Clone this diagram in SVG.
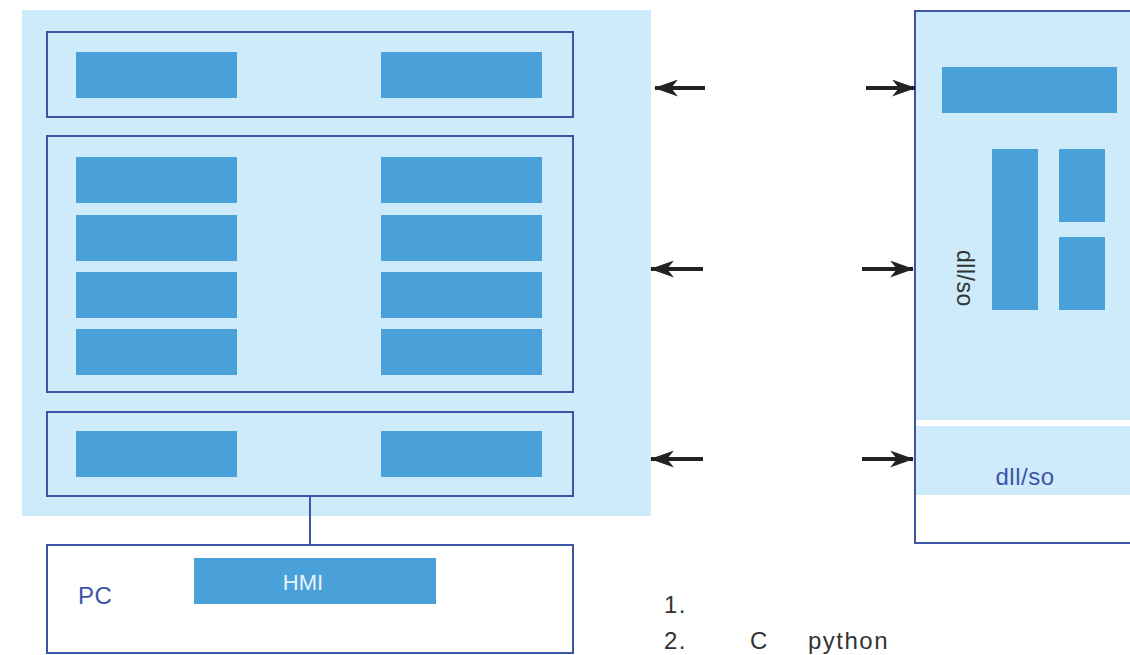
<svg xmlns="http://www.w3.org/2000/svg" width="1130" height="655" viewBox="0 0 1130 655">
<defs>
<style>
.bg{fill:#cdebfb}
.frame{fill:none;stroke:#3d55a6;stroke-width:2}
.blk{fill:#4aa0d9}
.arr{stroke:#222;stroke-width:4;fill:none}
.lbl{font-family:"Liberation Sans",sans-serif;font-size:24px;fill:#3d55a6;letter-spacing:0.5px}
.note{font-family:"Liberation Sans",sans-serif;font-size:24px;fill:#333;letter-spacing:1.5px}
</style>
<marker id="ah" viewBox="0 0 24 17" refX="23" refY="8.5" markerWidth="24" markerHeight="17" orient="auto" markerUnits="userSpaceOnUse">
<path d="M0,0 L24,8.5 L0,17 L7,8.5 Z" fill="#222"/>
</marker>
</defs>
<rect class="bg" x="22" y="10" width="629" height="506"/>
<g id="box1">
<rect class="frame" x="47" y="32" width="526" height="85"/>
<rect class="blk" x="76" y="52" width="161" height="46"/>
<rect class="blk" x="381" y="52" width="161" height="46"/>
</g>
<g id="box2">
<rect class="frame" x="47" y="136" width="526" height="256"/>
<rect class="blk" x="76" y="157" width="161" height="46"/>
<rect class="blk" x="381" y="157" width="161" height="46"/>
<rect class="blk" x="76" y="215" width="161" height="46"/>
<rect class="blk" x="381" y="215" width="161" height="46"/>
<rect class="blk" x="76" y="272" width="161" height="46"/>
<rect class="blk" x="381" y="272" width="161" height="46"/>
<rect class="blk" x="76" y="329" width="161" height="46"/>
<rect class="blk" x="381" y="329" width="161" height="46"/>
</g>
<g id="box3">
<rect class="frame" x="47" y="412" width="526" height="84"/>
<rect class="blk" x="76" y="431" width="161" height="46"/>
<rect class="blk" x="381" y="431" width="161" height="46"/>
</g>
<g id="pc">
<rect class="frame" x="47" y="545" width="526" height="108" fill="#fff"/>
<rect class="blk" x="194" y="558" width="242" height="46"/>
<text x="303" y="590" text-anchor="middle" font-family="Liberation Sans, sans-serif" font-size="22" fill="#e8f4fc">HMI</text>
<text class="lbl" x="78" y="604">PC</text>
</g>
<g id="right">
<rect class="bg" x="915" y="11" width="215" height="409"/>
<rect class="bg" x="915" y="426" width="215" height="69"/>
<path class="frame" d="M1131,11 H915 V543 H1131"/>
<rect class="blk" x="942" y="67" width="175" height="46"/>
<rect class="blk" x="992" y="149" width="46" height="161"/>
<rect class="blk" x="1059" y="149" width="46" height="73"/>
<rect class="blk" x="1059" y="237" width="46" height="73"/>
<text x="957" y="250" transform="rotate(90 957 250)" font-family="Liberation Sans, sans-serif" font-size="23" fill="#333" letter-spacing="0.5">dll/so</text>
<text class="lbl" x="1025" y="485" text-anchor="middle">dll/so</text>
</g>
<g id="connectors">
<line x1="310" y1="496" x2="310" y2="545" stroke="#3d55a6" stroke-width="2"/>
<line class="arr" x1="705" y1="88" x2="655" y2="88" marker-end="url(#ah)"/>
<line class="arr" x1="703" y1="269" x2="651" y2="269" marker-end="url(#ah)"/>
<line class="arr" x1="703" y1="459" x2="651" y2="459" marker-end="url(#ah)"/>
<line class="arr" x1="866" y1="88" x2="915" y2="88" marker-end="url(#ah)"/>
<line class="arr" x1="862" y1="269" x2="913" y2="269" marker-end="url(#ah)"/>
<line class="arr" x1="862" y1="459" x2="913" y2="459" marker-end="url(#ah)"/>
</g>
<g id="notes">
<text class="note" x="664" y="613">1.</text>
<text class="note" x="664" y="649">2.</text>
<text class="note" x="750" y="649">C</text>
<text class="note" x="808" y="649">python</text>
</g>
</svg>
